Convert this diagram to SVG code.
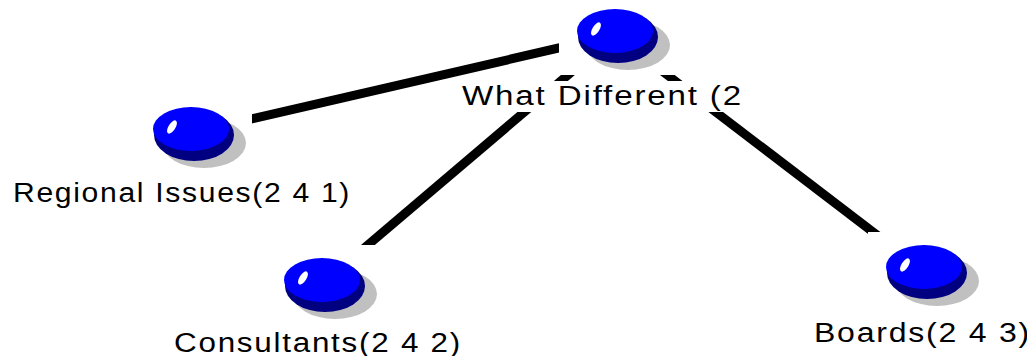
<svg xmlns="http://www.w3.org/2000/svg" xmlns:xlink="http://www.w3.org/1999/xlink" width="1027" height="356" viewBox="0 0 1027 356">
  <style>
    .edge { stroke: #000; stroke-width: 9; fill: none; stroke-linecap: butt; }
    .bg { fill: #fff; }
    .label { font-family: "Liberation Sans", Arial, sans-serif; font-size: 27px; letter-spacing: 1.5px; fill: #000; }
  </style>
  <defs>
    <g id="ball">
      <ellipse cx="13" cy="14" rx="42" ry="25" fill="#c0c0c0"/>
      <ellipse cx="3" cy="6" rx="40" ry="26" fill="#000080"/>
      <ellipse cx="0" cy="0" rx="38" ry="22" fill="#0000ff"/>
      <ellipse cx="-19" cy="-2" rx="7.5" ry="3.5" transform="rotate(-58 -19 -2)" fill="#ffffff"/>
    </g>
  </defs>
  <rect x="0" y="0" width="1027" height="356" fill="#fff"/>
  <g id="connectors">
    <line class="edge" x1="615" y1="35" x2="191" y2="133"/>
    <line class="edge" x1="615" y1="35" x2="322" y2="284"/>
    <line class="edge" x1="615" y1="35" x2="924" y2="271"/>
  </g>
  <g id="node-what-different">
    <rect class="bg" x="559" y="-4" width="117" height="79"/>
    <use xlink:href="#ball" href="#ball" x="615" y="31"/>
    <rect class="bg" x="455" y="81" width="295" height="31"/>
    <text class="label" x="462" y="105" textLength="281" lengthAdjust="spacingAndGlyphs">What Different (2</text>
  </g>
  <g id="node-regional-issues">
    <rect class="bg" x="135" y="94" width="117" height="79"/>
    <use xlink:href="#ball" href="#ball" x="191" y="129"/>
    <text class="label" x="13" y="202" textLength="338" lengthAdjust="spacingAndGlyphs">Regional Issues(2 4 1)</text>
  </g>
  <g id="node-consultants">
    <rect class="bg" x="266" y="245" width="117" height="79"/>
    <use xlink:href="#ball" href="#ball" x="322" y="280"/>
    <text class="label" x="174" y="352" textLength="288" lengthAdjust="spacingAndGlyphs">Consultants(2 4 2)</text>
  </g>
  <g id="node-boards">
    <rect class="bg" x="868" y="232" width="117" height="79"/>
    <use xlink:href="#ball" href="#ball" x="924" y="267"/>
    <text class="label" x="814" y="342" textLength="217" lengthAdjust="spacingAndGlyphs">Boards(2 4 3)</text>
  </g>
</svg>
